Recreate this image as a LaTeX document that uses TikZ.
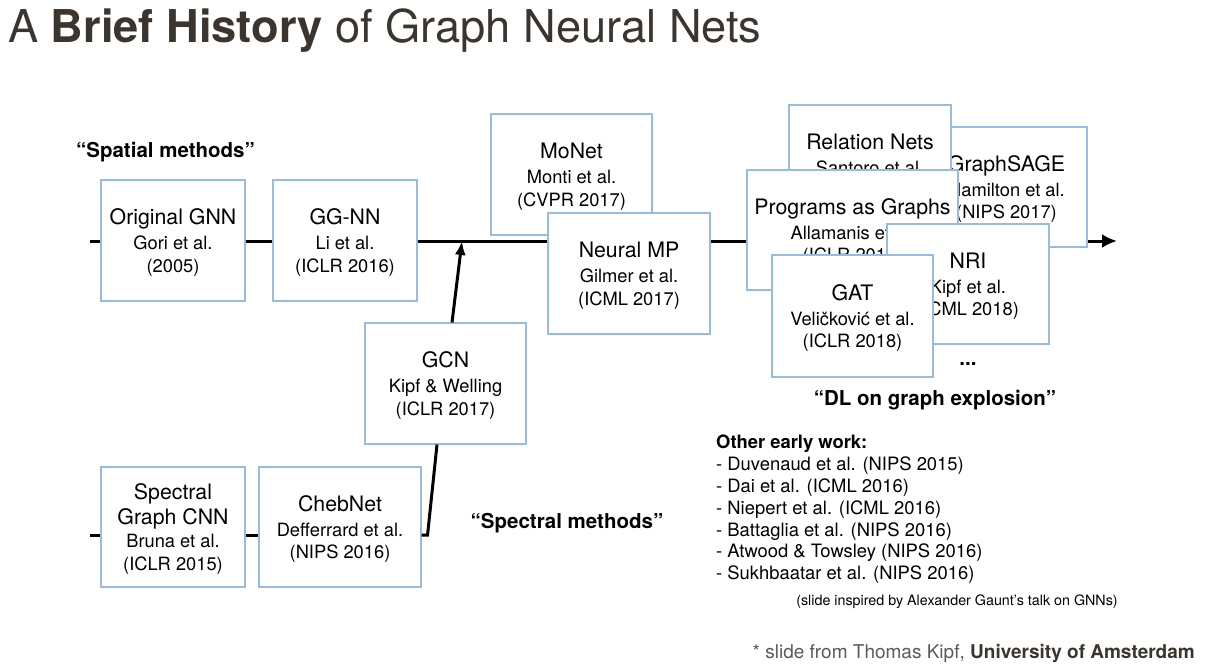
\documentclass[tikz,border=0pt]{standalone}
\usepackage{fontspec}
\setmainfont{TeX Gyre Heros}
\usetikzlibrary{arrows.meta,positioning,calc}
\definecolor{boxblue}{HTML}{95BCE3}
\definecolor{titleink}{HTML}{3B352E}
\definecolor{footgray}{HTML}{5A5A5A}
\newcommand{\mname}{\fontsize{21.3}{25}\selectfont}
\tikzset{method/.style={rectangle,draw=boxblue,fill=white,line width=1.1pt,minimum width=161pt,minimum height=121pt,inner sep=0pt,text depth=-5pt,align=center,font=\fontsize{18.3}{22.5}\selectfont},camp/.style={font=\fontsize{20.5}{24}\selectfont\bfseries,inner sep=0pt},timeline/.style={line width=3pt,-{Latex[length=15pt,width=14pt]}},influence/.style={line width=3pt,-{Latex[length=14pt,width=11pt]}},link/.style={line width=3pt}}

\begin{document}
\begin{tikzpicture}[x=1pt,y=-1pt]
\useasboundingbox (0,0) rectangle (1208,672);
\node[anchor=base west,inner sep=0pt,font=\fontsize{45.2}{50}\selectfont,text=titleink] (title) at (8,42) {A \textbf{Brief History} of Graph Neural Nets};
% spatial line
\coordinate (tl start) at (90,241);
\coordinate (tl end) at (1117,241);
\draw[timeline] (tl start) -- (tl end);
\node[camp] (spatial) at (165.5,152) {“Spatial methods”};
\node[method,minimum width=144pt] (gnn) at (173,240.5) {{\mname Original GNN}\\[2.5pt]Gori et al.\\(2005)};
\node[method,minimum width=144pt] (ggnn) at (345,240.5) {{\mname GG-NN}\\[2.5pt]Li et al.\\(ICLR 2016)};
\node[method] (monet) at (571.5,174.5) {{\mname MoNet}\\[2.5pt]Monti et al.\\(CVPR 2017)};
\node[method,minimum width=162pt] (nmp) at (629,273.5) {{\mname Neural MP}\\[2.5pt]Gilmer et al.\\(ICML 2017)};
% explosion pile
\node[method,minimum height=120pt] (sage) at (1006.5,187) {{\mname GraphSAGE}\\[2.5pt]Hamilton et al.\\(NIPS 2017)};
\node[method,minimum width=162pt] (relnet) at (870,165.5) {{\mname Relation Nets}\\[2.5pt]Santoro et al.\\(NIPS 2017)};
\node[method,minimum width=211pt,minimum height=120pt] (progs) at (852.5,230) {{\mname Programs as Graphs}\\[2.5pt]Allamanis et al.\\(ICLR 2018)};
\node[method,minimum width=162pt,minimum height=120pt] (nri) at (968,284) {{\mname NRI}\\[2.5pt]Kipf et al.\\(ICML 2018)};
\node[method,minimum height=122pt] (gat) at (852.5,316) {{\mname GAT}\\[2.5pt]Veličković et al.\\(ICLR 2018)};
\node[camp] (more) at (968,364) {...};
\node[camp] (explosion) at (935,400) {“DL on graph explosion”};
% spectral line
\coordinate (sp start) at (90,535);
\node[method,minimum width=144pt,minimum height=120pt] (scnn) at (173,527) {{\mname Spectral}\\[2.5pt]{\mname Graph CNN}\\[1pt]Bruna et al.\\(ICLR 2015)};
\node[method,minimum width=162pt,minimum height=120pt] (cheb) at (340,527) {{\mname ChebNet}\\[2.5pt]Defferrard et al.\\(NIPS 2016)};
\node[method] (gcn) at (445.5,383.5) {{\mname GCN}\\[2.5pt]Kipf \& Welling\\(ICLR 2017)};
\node[camp] (spectral) at (567,523) {“Spectral methods”};
\draw[link] (sp start) -- (sp start -| scnn.west);
\draw[link] ([yshift=-8pt]scnn.east) -- ([yshift=-8pt]cheb.west);
\draw[link] ([yshift=-8pt]cheb.east) -- ++(6,0) -- ([xshift=-8.5pt]gcn.south);
\coordinate (gcn hit) at (462,241);
\draw[influence] ([xshift=6.5pt]gcn.north) -- (gcn hit);
% notes
\node[anchor=north west,align=left,inner sep=0pt,font=\fontsize{18.4}{21.8}\selectfont] (early) at (716,435) {\textbf{Other early work:}\\- Duvenaud et al. (NIPS 2015)\\- Dai et al. (ICML 2016)\\- Niepert et al. (ICML 2016)\\- Battaglia et al. (NIPS 2016)\\- Atwood \& Towsley (NIPS 2016)\\- Sukhbaatar et al. (NIPS 2016)};
\node[font=\fontsize{14.3}{16}\selectfont,inner sep=0pt] (inspired) at (957,602) {(slide inspired by Alexander Gaunt’s talk on GNNs)};
\node[anchor=base east,inner sep=0pt,font=\fontsize{19}{22}\selectfont,text=footgray] (credit) at (1195,658) {* slide from Thomas Kipf, \textcolor{titleink}{\textbf{University of Amsterdam}}};
\end{tikzpicture}
\end{document}
